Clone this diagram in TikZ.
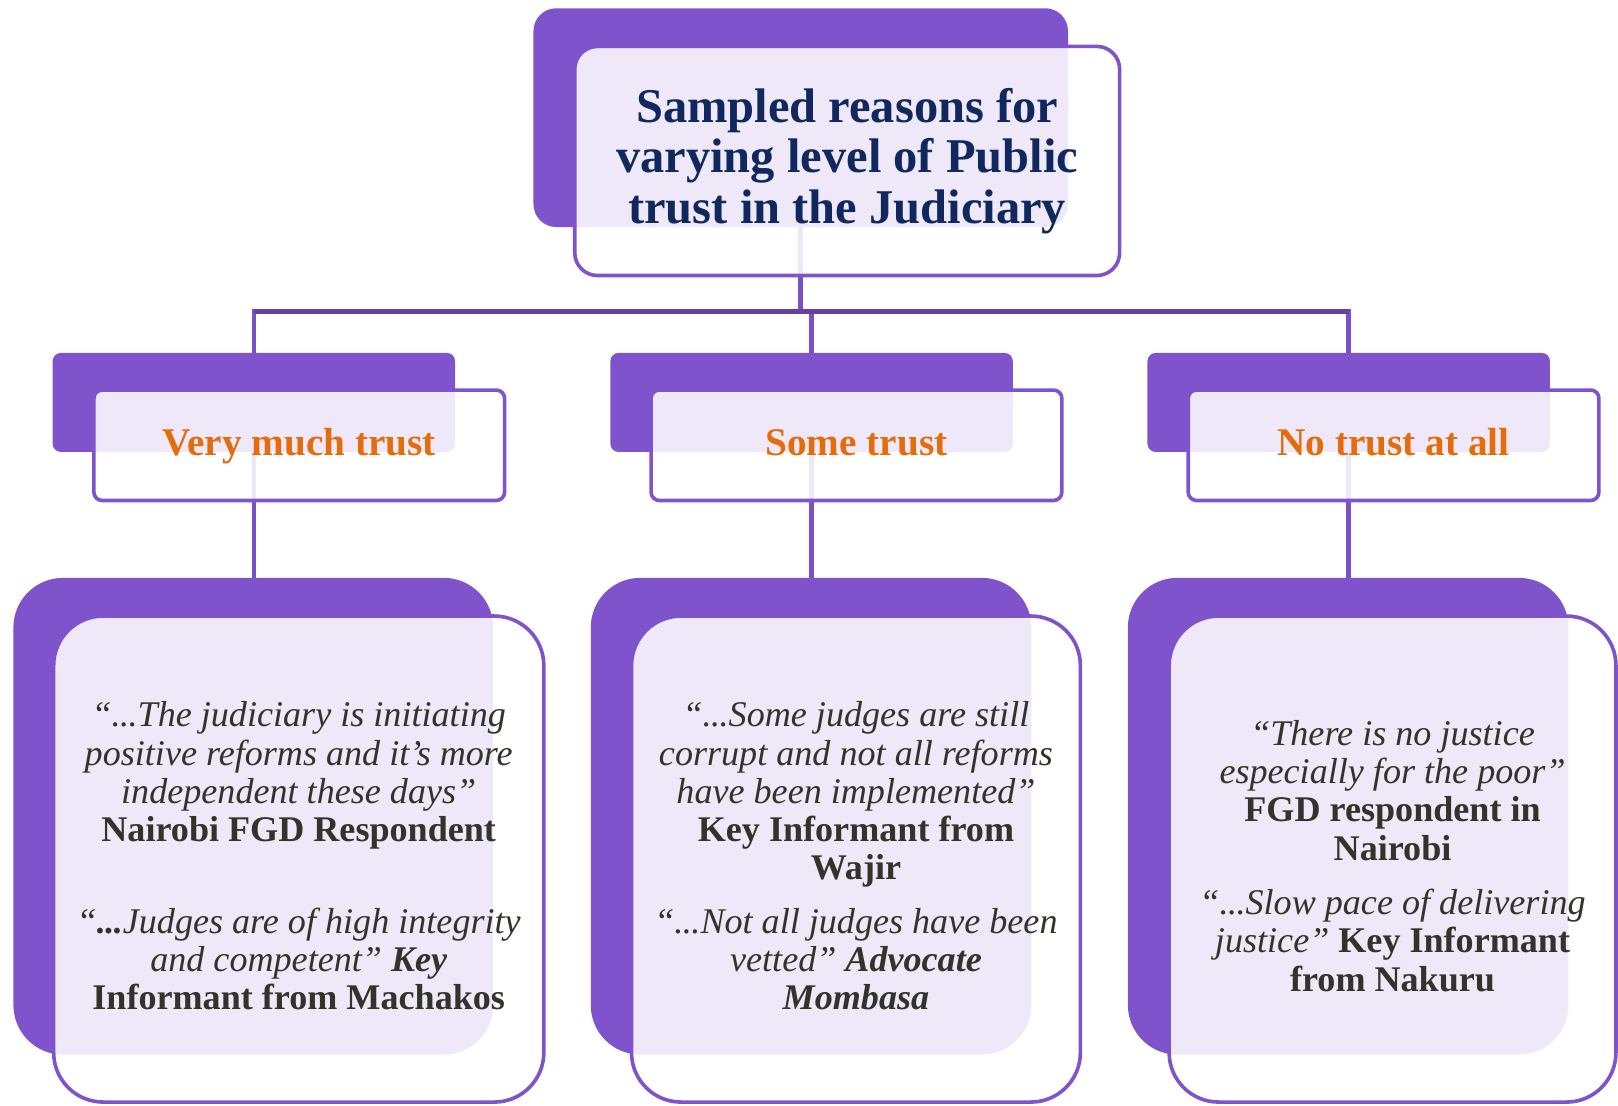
\documentclass[tikz,border=0pt]{standalone}
\usepackage{fontspec}
\setmainfont{Liberation Serif}
\definecolor{pback}{HTML}{7E53CB}
\definecolor{pline}{HTML}{7A50C4}
\definecolor{pbar}{HTML}{6242A2}
\definecolor{navy}{HTML}{10285E}
\definecolor{lvl}{HTML}{E46C0A}
\definecolor{quote}{HTML}{33332A}
\newcommand\srcname[1]{{\bfseries\upshape #1}}
\newcommand\srcit[1]{{\bfseries\itshape #1}}
\newcommand\elp{.\kern-0.5pt.\kern-0.5pt.}
\begin{document}
\begin{tikzpicture}[x=1pt,y=-1pt,
  back/.style={fill=pback, draw=none, inner sep=0pt, outer sep=0pt, rounded corners=#1},
  front/.style={fill=white, fill opacity=0.87, draw=pback, line width=3.5pt,
    inner sep=0pt, outer sep=0pt, rounded corners=#1},
  conn/.style={draw=pline, line width=4.5pt},
  bar/.style={draw=pbar, line width=4.5pt},
  ttl/.style={text=navy, font=\bfseries\fontsize{47}{49}\selectfont, align=center},
  lvltxt/.style={text=lvl, font=\bfseries\fontsize{38}{40}\selectfont, anchor=base},
  qtxt/.style={text=quote, font=\itshape\fontsize{35}{37}\selectfont, align=center}]
\useasboundingbox (0,0) rectangle (1568,1071);

% back plates
\node[back=22pt, minimum width=518pt, minimum height=212pt] (tb) at (776,114) {};
\node[back=8pt, minimum width=390pt, minimum height=96pt] (mb1) at (246,390) {};
\node[back=8pt, minimum width=390pt, minimum height=96pt] (mb2) at (786.5,390) {};
\node[back=8pt, minimum width=390pt, minimum height=96pt] (mb3) at (1307,390) {};
\node[back=48pt, minimum width=465pt, minimum height=462pt] (bb1) at (245.5,791) {};
\node[back=48pt, minimum width=427pt, minimum height=462pt] (bb2) at (786,791) {};
\node[back=48pt, minimum width=427pt, minimum height=462pt] (bb3) at (1306.5,791) {};

% tree connectors
\coordinate (busy) at (0,302);
\draw[conn] (tb.south) -- (tb.south |- busy) -| (mb1.north);
\draw[conn] (tb.south |- busy) -| (mb2.north);
\draw[conn] (tb.south |- busy) -| (mb3.north);
\draw[bar] (mb1.north |- busy) -- (mb3.north |- busy);
\draw[conn] (mb1.south) -- (mb1.south |- bb1.north);
\draw[conn] (mb2.south) -- (mb2.south |- bb2.north);
\draw[conn] (mb3.south) -- (mb3.south |- bb3.north);

% front cards
\node[front=22pt, minimum width=528pt, minimum height=222pt] (tf) at (821,156) {};
\node[front=8pt, minimum width=398pt, minimum height=107pt] (mf1) at (290,431.5) {};
\node[front=8pt, minimum width=398pt, minimum height=107pt] (mf2) at (830,431.5) {};
\node[front=8pt, minimum width=398pt, minimum height=107pt] (mf3) at (1350.5,431.5) {};
\node[front=48pt, minimum width=475pt, minimum height=471pt] (bf1) at (289.5,832.5) {};
\node[front=48pt, minimum width=435pt, minimum height=471pt] (bf2) at (829.5,832.5) {};
\node[front=48pt, minimum width=433pt, minimum height=471pt] (bf3) at (1349.5,832.5) {};

% texts
\node[ttl] (title) at (tf.center) {Sampled reasons for\\varying level of Public\\trust in the Judiciary};
\node[lvltxt] (l1) at (mf1.center |- 0,441) {Very much trust};
\node[lvltxt] (l2) at (mf2.center |- 0,441) {Some trust};
\node[lvltxt] (l3) at (mf3.center |- 0,441) {No trust at all};

\node[qtxt] (q1) at ([yshift=3pt]bf1.center) {“\elp The judiciary is initiating\\
  positive reforms and it’s more\\
  independent these days”\\
  \srcname{Nairobi FGD Respondent}\\[52pt]
  “\textbf{\elp}Judges are of high integrity\\
  and competent" \srcit{Key}\\
  \srcname{Informant from Machakos}};
\node[qtxt] (q2) at ([yshift=3pt]bf2.center) {“\elp Some judges are still\\
  corrupt and not all reforms\\
  have been implemented”\\
  \srcname{Key Informant from}\\
  \srcname{Wajir}\\[15pt]
  “\elp Not all judges have been\\
  vetted” \srcit{Advocate}\\
  \srcit{Mombasa}};
\node[qtxt] (q3) at ([yshift=3pt]bf3.center) {“There is no justice\\
  especially for the poor”\\
  \srcname{FGD respondent in}\\
  \srcname{Nairobi}\\[16pt]
  “\elp Slow pace of delivering\\
  justice” \srcname{Key Informant}\\
  \srcname{from Nakuru}};
\end{tikzpicture}
\end{document}
